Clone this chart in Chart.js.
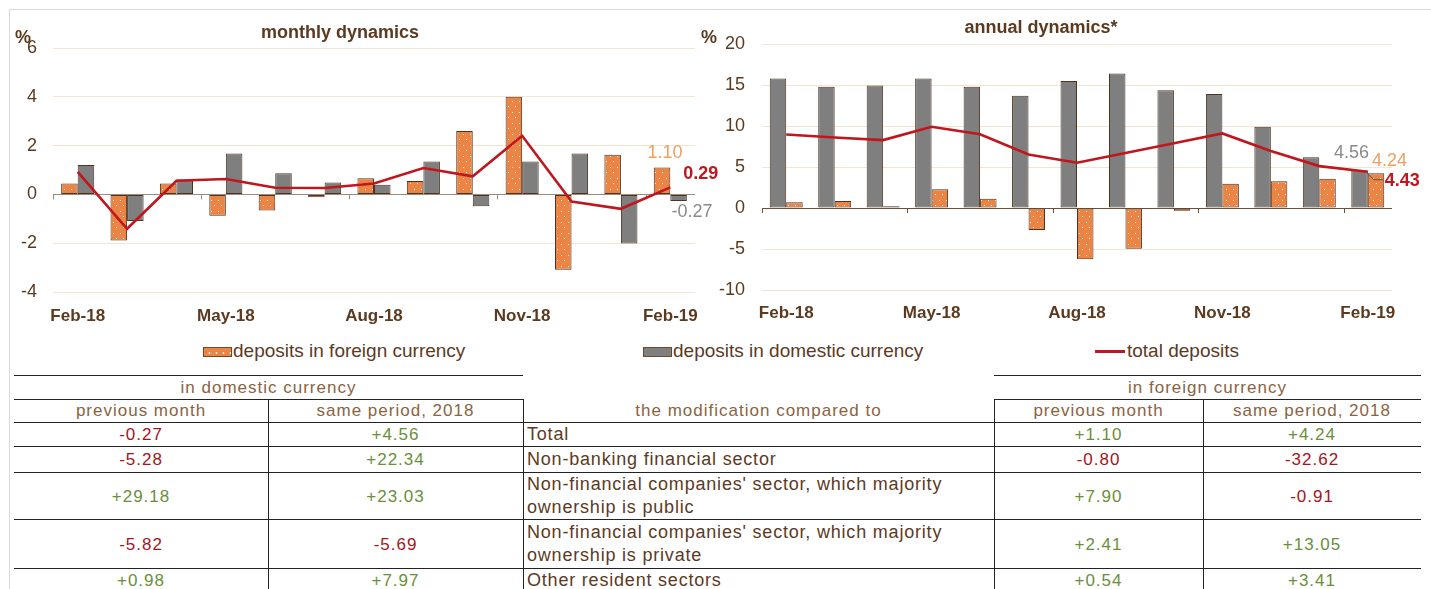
<!DOCTYPE html>
<html><head><meta charset="utf-8">
<script src="https://cdn.jsdelivr.net/npm/chart.js@4.4.1/dist/chart.umd.min.js"></script>
<style>
html,body{margin:0;padding:0;background:#fff;}
body{width:1431px;height:589px;overflow:hidden;position:relative;font-family:'Liberation Sans',Arial,sans-serif;}
#frame{position:absolute;left:9px;top:9px;width:1440px;height:600px;border-top:1px solid #dadada;border-left:1px solid #dadada;}
canvas{position:absolute;top:0;}
#c1{left:0;}
#c2{left:700px;}
.lg{position:absolute;top:340px;height:22px;line-height:22px;font-size:19px;color:#5b3a1f;white-space:nowrap;}
.sw{position:absolute;left:0;top:7px;width:27px;height:8px;border:1px solid #6b4a2e;}
.ln{position:absolute;left:0;top:10px;width:30px;height:3px;background:#c0161e;}
.hl{position:absolute;height:1px;background:#222;}
.vl{position:absolute;width:1px;background:#222;}
.cell{position:absolute;display:flex;align-items:center;justify-content:center;text-align:center;font-size:17px;letter-spacing:1px;color:#8a6442;white-space:pre-line;line-height:23px;}
.lab{justify-content:flex-start;text-align:left;padding-left:4px;color:#5b3a1f;font-size:18px;letter-spacing:0.8px;box-sizing:border-box;}
.neg{color:#a3151b;}
.pos{color:#6a8f3a;}
</style></head>
<body>
<div id="frame"></div>
<canvas id="c1" width="720" height="335"></canvas>
<canvas id="c2" width="731" height="335"></canvas>
<div class="lg" style="left:203px;padding-left:30px"><span class="sw" id="swO"></span>deposits in foreign currency</div>
<div class="lg" style="left:643px;padding-left:30px"><span class="sw" style="background:#7f7f7f"></span>deposits in domestic currency</div>
<div class="lg" style="left:1095px;padding-left:32px"><span class="ln"></span>total deposits</div>
<div id="tbl"></div>
<script>
// ---------- data ----------
const months = ['Feb-18','Mar-18','Apr-18','May-18','Jun-18','Jul-18','Aug-18','Sep-18','Oct-18','Nov-18','Dec-18','Jan-19','Feb-19'];
const monthlyForeign  = [0.45,-1.89,0.45,-0.87,-0.66,-0.12,0.66,0.55,2.60,4.00,-3.09,1.63,1.10];
const monthlyDomestic = [1.20,-1.09,0.61,1.68,0.87,0.49,0.40,1.35,-0.49,1.35,1.68,-2.01,-0.27];
const monthlyTotal    = [0.92,-1.41,0.56,0.63,0.27,0.26,0.45,1.08,0.74,2.40,-0.29,-0.59,0.29];
const annualForeign   = [0.70,0.85,0.20,2.28,1.14,-2.68,-6.26,-4.96,-0.33,2.97,3.25,3.58,4.24];
const annualDomestic  = [15.8,14.8,14.95,15.8,14.8,13.7,15.5,16.4,14.35,13.9,9.9,6.2,4.56];
const annualTotal     = [8.97,8.6,8.28,9.9,9.0,6.53,5.52,6.7,7.9,9.09,6.94,5.11,4.43];
const monthlyTicks = [-4,-2,0,2,4,6];
const annualTicks = [-10,-5,0,5,10,15,20];

const rowLabels = ['Total','Non-banking financial sector',"Non-financial companies' sector, which majority\nownership is public","Non-financial companies' sector, which majority\nownership is private",'Other resident sectors'];
const domPrev = ['-0.27','-5.28','+29.18','-5.82','+0.98'];
const domSame = ['+4.56','+22.34','+23.03','-5.69','+7.97'];
const forPrev = ['+1.10','-0.80','+7.90','+2.41','+0.54'];
const forSame = ['+4.24','-32.62','-0.91','+13.05','+3.41'];

// ---------- styles ----------
const ORANGE='#eb8546', GRAY='#7f7f7f', RED='#c0161e', EDGE='#4e3420', TXT='#5b3a1f', GRID='#f6e4d1';
const FONT="'Liberation Sans', Arial, sans-serif";

function makePattern(){
  const c=document.createElement('canvas'); c.width=7; c.height=11;
  const x=c.getContext('2d'); x.fillStyle=ORANGE; x.fillRect(0,0,7,11);
  x.fillStyle='rgba(255,242,228,1)';
  x.fillRect(1,2,1,1); x.fillRect(4,7,1,1);
  return document.createElement('canvas').getContext('2d').createPattern(c,'repeat');
}
const PAT = makePattern();
document.getElementById('swO').style.background =
  'radial-gradient(circle, #fff0e0 0.8px, transparent 1.2px) 2px 1px/7px 8px, '+ORANGE;

function baseOptions(min,max,ticks,padTop,padRight,yW,xH,xPad,yPad,zeroColor){
  return {
    responsive:false, animation:false,
    layout:{padding:{top:padTop,right:padRight,left:0,bottom:0}},
    plugins:{legend:{display:false},tooltip:{enabled:false}},
    scales:{
      x:{grid:{display:false,drawTicks:false},border:{display:false},
         ticks:{autoSkip:false,maxRotation:0,padding:xPad,color:TXT,font:{family:FONT,size:17,weight:'bold'},
                callback:(v,i)=> i%3===0 ? months[i] : ''},
         afterFit:s=>{s.height=xH;}},
      y:{min:min,max:max,
         afterBuildTicks:s=>{s.ticks=ticks.map(v=>({value:v}));},
         ticks:{padding:yPad,color:TXT,font:{family:FONT,size:18}},
         grid:{drawTicks:false,lineWidth:1,color:c=>c.tick&&c.tick.value===0?zeroColor:GRID},
         border:{display:false},
         afterFit:s=>{s.width=yW;}}
    }
  };
}

function boundaryTicks(chart,color){
  const xs=chart.scales.x, ys=chart.scales.y, ctx=chart.ctx;
  const half=(xs.getPixelForValue(1)-xs.getPixelForValue(0))/2;
  const y0=ys.getPixelForValue(0);
  ctx.save(); ctx.strokeStyle=color; ctx.lineWidth=1;
  for(let i=0;i<months.length;i+=3){
    const x=Math.round(xs.getPixelForValue(i)-half)+0.5;
    ctx.beginPath(); ctx.moveTo(x,y0); ctx.lineTo(x,y0+5); ctx.stroke();
  }
  ctx.restore();
}
function txt(ctx,s,x,y,color,font,align,base){
  ctx.save(); ctx.fillStyle=color; ctx.font=font; ctx.textAlign=align||'left'; ctx.textBaseline=base||'middle';
  ctx.fillText(s,x,y); ctx.restore();
}

// ---------- monthly chart ----------
const last = months.length-1;
new Chart(document.getElementById('c1'),{
  type:'bar',
  data:{labels:months,datasets:[
    {type:'line',label:'total deposits',data:monthlyTotal,borderColor:RED,borderWidth:2.6,pointRadius:0,tension:0,order:0},
    {label:'deposits in foreign currency',data:monthlyForeign,backgroundColor:PAT,borderColor:EDGE,borderWidth:1,borderSkipped:false,categoryPercentage:0.67,barPercentage:1,order:1},
    {label:'deposits in domestic currency',data:monthlyDomestic,backgroundColor:GRAY,borderColor:EDGE,borderWidth:1,borderSkipped:false,categoryPercentage:0.67,barPercentage:1,order:1}
  ]},
  options:baseOptions(-4,6,monthlyTicks,48,25,53,43,14,16,'#9a8b7c'),
  plugins:[{id:'ex1',
    beforeDatasetsDraw(chart){ boundaryTicks(chart,'#9a8b7c'); },
    afterDatasetsDraw(chart){
      const ctx=chart.ctx;
      txt(ctx,'monthly dynamics',340,33,TXT,'bold 18px '+FONT,'center');
      txt(ctx,'%',15,38,TXT,'bold 18px '+FONT,'left');
      const o=chart.getDatasetMeta(1).data[last], g=chart.getDatasetMeta(2).data[last], l=chart.getDatasetMeta(0).data[last];
      txt(ctx,monthlyForeign[last].toFixed(2),o.x+3,o.y-6,'#f0a064','18px '+FONT,'center','bottom');
      txt(ctx,monthlyTotal[last].toFixed(2),l.x+13,l.y-13,RED,'bold 18px '+FONT,'left');
      txt(ctx,monthlyDomestic[last].toFixed(2),g.x-7,g.y+11,'#8a8a8a','18px '+FONT,'left');
    }}]
});

// ---------- annual chart ----------
new Chart(document.getElementById('c2'),{
  type:'bar',
  data:{labels:months,datasets:[
    {type:'line',label:'total deposits',data:annualTotal,borderColor:RED,borderWidth:2.6,pointRadius:0,tension:0,order:0},
    {label:'deposits in domestic currency',data:annualDomestic,backgroundColor:GRAY,borderColor:EDGE,borderWidth:1,borderSkipped:false,categoryPercentage:0.68,barPercentage:1,order:1},
    {label:'deposits in foreign currency',data:annualForeign,backgroundColor:PAT,borderColor:EDGE,borderWidth:1,borderSkipped:false,categoryPercentage:0.68,barPercentage:1,order:1}
  ]},
  options:baseOptions(-10,20,annualTicks,44,39,62,45,13,17,'#6e5038'),
  plugins:[{id:'ex2',
    beforeDatasetsDraw(chart){ boundaryTicks(chart,'#6e5038'); },
    afterDatasetsDraw(chart){
      const ctx=chart.ctx;
      txt(ctx,'annual dynamics*',341,28,TXT,'bold 18px '+FONT,'center');
      txt(ctx,'%',1,38,TXT,'bold 18px '+FONT,'left');
      const g=chart.getDatasetMeta(1).data[last], o=chart.getDatasetMeta(2).data[last], l=chart.getDatasetMeta(0).data[last];
      txt(ctx,annualDomestic[last].toFixed(2),g.x-8,g.y-9,'#8a8a8a','18px '+FONT,'center','bottom');
      txt(ctx,annualForeign[last].toFixed(2),o.x-4,o.y-12,'#f0a064','18px '+FONT,'left');
      txt(ctx,annualTotal[last].toFixed(2),l.x+17,l.y+9,RED,'bold 18px '+FONT,'left');
      ctx.save(); ctx.strokeStyle='#555'; ctx.lineWidth=1; ctx.beginPath();
      ctx.moveTo(l.x-2,l.y); ctx.lineTo(l.x+6,l.y+8); ctx.lineTo(l.x+15,l.y+8); ctx.stroke(); ctx.restore();
    }}]
});

// ---------- table ----------
(function(){
  const T=document.getElementById('tbl');
  const X=[14,268,523,994,1203,1421];
  const Y=[375,399,422,446,472,519,568,592];
  function add(cls,st,html){const d=document.createElement('div');d.className=cls;Object.assign(d.style,st);if(html!=null)d.textContent=html;T.appendChild(d);return d;}
  function hl(y,x1,x2){add('hl',{top:y+'px',left:x1+'px',width:(x2-x1)+'px'});}
  function vl(x,y1,y2){add('vl',{left:x+'px',top:y1+'px',height:(y2-y1)+'px'});}
  function cell(x1,x2,y1,y2,text,cls){add('cell '+(cls||''),{left:x1+'px',width:(x2-x1)+'px',top:y1+'px',height:(y2-y1)+'px'},text);}
  hl(Y[0],X[0],X[2]); hl(Y[0],X[3],X[5]);
  hl(Y[1],X[0],X[2]); hl(Y[1],X[3],X[5]);
  for(let i=2;i<Y.length-1;i++) hl(Y[i],X[0],X[5]);
  [1,2,3,4].forEach(k=>vl(X[k],Y[1],589));
  cell(X[0],X[2],Y[0],Y[1],'in domestic currency');
  cell(X[3],X[5],Y[0],Y[1],'in foreign currency');
  cell(X[0],X[1],Y[1],Y[2],'previous month');
  cell(X[1],X[2],Y[1],Y[2],'same period, 2018');
  cell(X[2],X[3],Y[1],Y[2],'the modification compared to');
  cell(X[3],X[4],Y[1],Y[2],'previous month');
  cell(X[4],X[5],Y[1],Y[2],'same period, 2018');
  const sign=s=>s.charAt(0)==='-'?'neg':'pos';
  rowLabels.forEach((lab,r)=>{
    const y1=Y[r+2]+1,y2=Y[r+3];
    cell(X[0],X[1],y1,y2,domPrev[r],sign(domPrev[r]));
    cell(X[1],X[2],y1,y2,domSame[r],sign(domSame[r]));
    cell(X[2],X[3],y1,y2,lab,'lab');
    cell(X[3],X[4],y1,y2,forPrev[r],sign(forPrev[r]));
    cell(X[4],X[5],y1,y2,forSame[r],sign(forSame[r]));
  });
})();
</script>
</body></html>
